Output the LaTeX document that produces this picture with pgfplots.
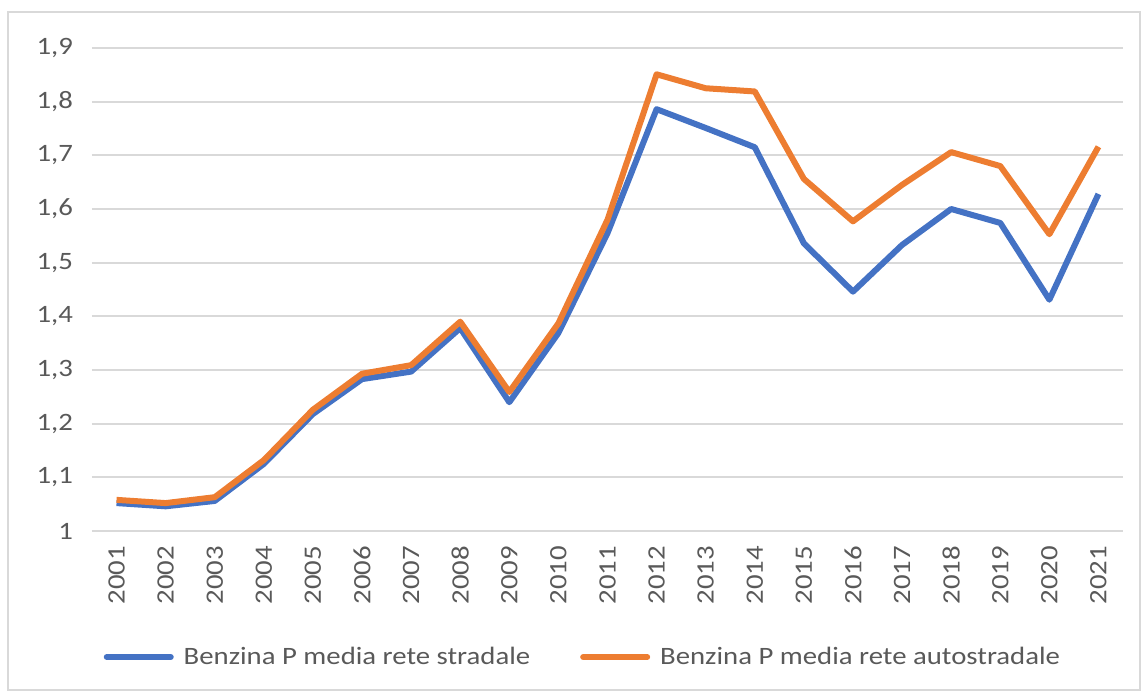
\documentclass[border=0pt]{standalone}
\usepackage{pgfplots}
\pgfplotsset{compat=1.18}
\usepackage{fontspec}
\setmainfont{Carlito}[FakeStretch=1.15]
\newfontfamily\yearfont{Carlito}[FakeStretch=1.15]
\definecolor{txt}{HTML}{595959}
\definecolor{grd}{HTML}{D9D9D9}
\definecolor{cblue}{HTML}{4472C4}
\definecolor{corange}{HTML}{ED7D31}
\begin{document}
\begin{tikzpicture}
\path[use as bounding box] (0,0) rectangle (572.5pt,347.5pt);
\draw[grd, line width=0.75pt] (4pt,2.5pt) rectangle (570pt,341.5pt);
\begin{axis}[
  at={(46pt,82pt)}, anchor=south west,
  scale only axis, width=515.5pt, height=241.5pt,
  xmin=-0.5, xmax=20.5, ymin=1, ymax=1.9,
  xtick={0,1,2,3,4,5,6,7,8,9,10,11,12,13,14,15,16,17,18,19,20},
  xticklabels={2001,2002,2003,2004,2005,2006,2007,2008,2009,2010,2011,2012,2013,2014,2015,2016,2017,2018,2019,2020,2021},
  ytick={1,1.1,1.2,1.3,1.4,1.5,1.6,1.7,1.8,1.9},
  /pgf/number format/assume math mode=true,
  /pgf/number format/use comma,
  yticklabel={\pgfmathprintnumber[fixed,precision=1]{\tick}},
  axis line style={draw=none},
  major tick length=0pt,
  ymajorgrids, grid style={grd, line width=0.9pt},
  tick label style={text=txt},
  font=\fontsize{12.5}{15}\selectfont,
  yticklabel style={anchor=east, xshift=-6pt},
  xticklabel style={rotate=90, anchor=east, xshift=-4pt, font=\yearfont\fontsize{12.5}{15}\selectfont},
  legend columns=2,
  legend style={draw=none, fill=none, at={(0.480,-0.261)}, anchor=center, text=txt,
    nodes={inner xsep=5pt},
    /tikz/every even column/.append style={column sep=20pt}},
  legend image code/.code={\draw[#1, line width=3pt, line cap=round] (0pt,0pt) -- (32pt,0pt);},
]
\addplot[cblue, line width=3pt, line join=round] coordinates {
(0,1.052) (1,1.046) (2,1.056) (3,1.125) (4,1.218) (5,1.283) (6,1.297) (7,1.378) (8,1.240) (9,1.369)
(10,1.555) (11,1.786) (12,1.751) (13,1.715) (14,1.536) (15,1.446) (16,1.533) (17,1.600) (18,1.574) (19,1.431) (20,1.628)};
\addlegendentry{Benzina P media rete stradale}
\addplot[corange, line width=3pt, line join=round] coordinates {
(0,1.058) (1,1.052) (2,1.063) (3,1.132) (4,1.226) (5,1.293) (6,1.309) (7,1.390) (8,1.259) (9,1.387)
(10,1.580) (11,1.851) (12,1.825) (13,1.819) (14,1.656) (15,1.577) (16,1.645) (17,1.706) (18,1.680) (19,1.553) (20,1.716)};
\addlegendentry{Benzina P media rete autostradale}
\end{axis}
\end{tikzpicture}
\end{document}
